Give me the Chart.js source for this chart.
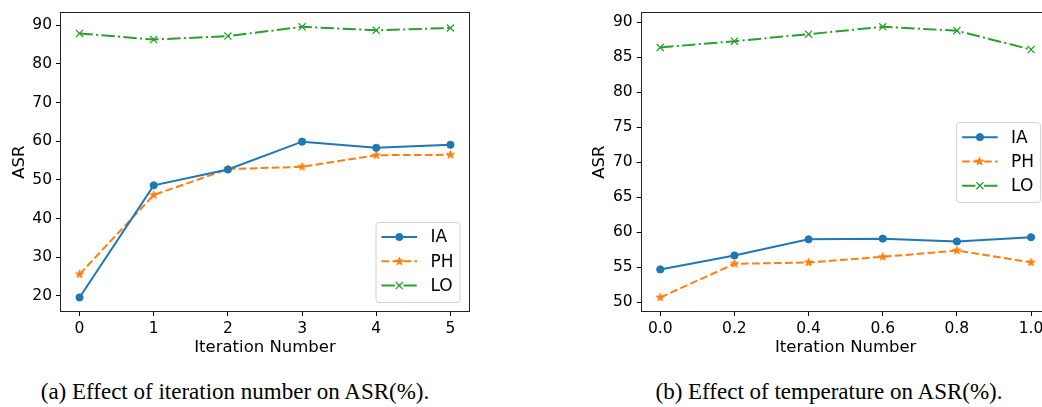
<!DOCTYPE html>
<html><head><meta charset="utf-8">
<script src="https://cdn.jsdelivr.net/npm/chart.js@4/dist/chart.umd.min.js"></script>
<style>
html,body{margin:0;padding:0;background:#fff;width:1042px;height:407px;overflow:hidden;position:relative}
.wrap{position:absolute;top:0;height:362px}
#wa{left:0;width:520px}
#wb{left:520px;width:540px}
.cap{position:absolute;top:379px;font-family:"Liberation Serif","Times New Roman",serif;font-size:23px;line-height:26px;color:#000;white-space:nowrap;transform:translateX(-50%)}
</style></head>
<body>
<div class="wrap" id="wa"><canvas id="ca" width="520" height="362"></canvas></div>
<div class="wrap" id="wb"><canvas id="cb" width="540" height="362"></canvas></div>
<div class="cap" style="left:235px">(a) Effect of iteration number on ASR(%).</div>
<div class="cap" style="left:829px">(b) Effect of temperature on ASR(%).</div>
<script>
// ---- data ----
const seriesNames = ['IA', 'PH', 'LO'];
const iterations = [0, 1, 2, 3, 4, 5];
const iterLabels = ['0', '1', '2', '3', '4', '5'];
const iaIter = [19.6, 48.6, 52.7, 59.9, 58.3, 59.1];
const phIter = [25.6, 46.1, 52.8, 53.4, 56.4, 56.5];
const loIter = [87.9, 86.3, 87.2, 89.6, 88.7, 89.3];
const yTicksA = [20, 30, 40, 50, 60, 70, 80, 90];

const temps = [0.0, 0.2, 0.4, 0.6, 0.8, 1.0];
const tempLabels = ['0.0', '0.2', '0.4', '0.6', '0.8', '1.0'];
const iaTemp = [54.7, 56.7, 59.0, 59.1, 58.7, 59.3];
const phTemp = [50.7, 55.5, 55.7, 56.5, 57.4, 55.7];
const loTemp = [86.4, 87.3, 88.3, 89.35, 88.8, 86.1];
const yTicksB = [50, 55, 60, 65, 70, 75, 80, 85, 90];

const xTitle = 'Iteration Number';
const yTitle = 'ASR';

// ---- styling ----
const C = ['#1f77b4', '#ff7f0e', '#2ca02c'];
const FONT = "'DejaVu Sans', sans-serif";

function starImg(color, R) {
  const s = 11;
  const c = document.createElement('canvas'); c.width = s; c.height = s;
  const g = c.getContext('2d');
  g.fillStyle = color; g.strokeStyle = color; g.lineWidth = 1; g.lineJoin = 'miter';
  g.beginPath();
  for (let k = 0; k < 10; k++) {
    const r = (k % 2) ? R * 0.381966 : R;
    const a = -Math.PI / 2 + k * Math.PI / 5;
    const px = s / 2 + r * Math.cos(a), py = s / 2 + r * Math.sin(a);
    if (k === 0) g.moveTo(px, py); else g.lineTo(px, py);
  }
  g.closePath(); g.fill(); g.stroke();
  return c;
}
const STAR = starImg(C[1], 4.3);

function pts(xs, ys) { return xs.map((x, i) => ({x: x, y: ys[i]})); }

function makeDatasets(xs, a, b, c) {
  return [
    {label: seriesNames[0], data: pts(xs, a), borderColor: C[0], backgroundColor: C[0], borderWidth: 2,
     pointStyle: 'circle', pointRadius: 3.6, pointBorderWidth: 1, pointBackgroundColor: C[0], pointBorderColor: C[0]},
    {label: seriesNames[1], data: pts(xs, b), borderColor: C[1], backgroundColor: C[1], borderWidth: 2,
     borderDash: [7.7, 3.3], pointStyle: STAR, pointRadius: 5, pointBorderWidth: 0},
    {label: seriesNames[2], data: pts(xs, c), borderColor: C[2], backgroundColor: C[2], borderWidth: 2,
     borderDash: [13.3, 3.3, 2.1, 3.3], pointStyle: 'crossRot', pointRadius: 5, pointBorderWidth: 1.3,
     pointBorderColor: C[2]}
  ];
}

function lim(arrs) {
  const all = [].concat(...arrs);
  const lo = Math.min(...all), hi = Math.max(...all), m = 0.05 * (hi - lo);
  return [lo - m, hi + m];
}

const framePlugin = {
  id: 'frame',
  afterDatasetsDraw(chart) {
    const ctx = chart.ctx, a = chart.chartArea;
    ctx.save();
    ctx.strokeStyle = '#222'; ctx.lineWidth = 1;
    ctx.strokeRect(Math.round(a.left) - 0.5, Math.round(a.top) - 0.5,
                   Math.round(a.right) - Math.round(a.left) + 1, Math.round(a.bottom) - Math.round(a.top) + 1);
    ctx.restore();
  }
};

function drawMarker(ctx, ds, x, y) {
  ctx.save();
  if (ds.pointStyle === 'circle') {
    ctx.fillStyle = ds.borderColor; ctx.strokeStyle = ds.borderColor; ctx.lineWidth = 1;
    ctx.beginPath(); ctx.arc(x, y, ds.pointRadius, 0, Math.PI * 2); ctx.fill(); ctx.stroke();
  } else if (ds.pointStyle === 'crossRot') {
    const d = ds.pointRadius * Math.SQRT1_2;
    ctx.strokeStyle = ds.borderColor; ctx.lineWidth = ds.pointBorderWidth;
    ctx.beginPath(); ctx.moveTo(x - d, y - d); ctx.lineTo(x + d, y + d);
    ctx.moveTo(x - d, y + d); ctx.lineTo(x + d, y - d); ctx.stroke();
  } else {
    const im = ds.pointStyle;
    ctx.drawImage(im, Math.round(x - im.width / 2), Math.round(y - im.height / 2));
  }
  ctx.restore();
}

const legendPlugin = {
  id: 'mplLegend',
  afterDraw(chart, args, opts) {
    const ctx = chart.ctx, a = chart.chartArea;
    const w = 84, h = 80;
    const x = a.right - 9.5 - w;
    const y = opts.loc === 'lower right' ? a.bottom - 9 - h : (a.top + a.bottom) / 2 - h / 2;
    ctx.save();
    ctx.beginPath();
    if (ctx.roundRect) ctx.roundRect(x + 0.5, y + 0.5, w, h, 3); else ctx.rect(x + 0.5, y + 0.5, w, h);
    ctx.fillStyle = 'rgba(255,255,255,0.8)'; ctx.fill();
    ctx.strokeStyle = '#d0d0d0'; ctx.lineWidth = 1; ctx.stroke();
    chart.data.datasets.forEach((ds, i) => {
      const cy = y + 15 + i * 24.3;
      ctx.save();
      ctx.strokeStyle = ds.borderColor; ctx.lineWidth = ds.borderWidth;
      ctx.setLineDash(ds.borderDash || []);
      ctx.beginPath(); ctx.moveTo(x + 6, cy); ctx.lineTo(x + 41.6, cy); ctx.stroke();
      ctx.restore();
      drawMarker(ctx, ds, x + 23.8, cy);
      ctx.fillStyle = '#000'; ctx.font = '17px ' + FONT; ctx.textBaseline = 'middle'; ctx.textAlign = 'left';
      ctx.fillText(ds.label, x + 55, cy + 1);
    });
    ctx.restore();
  }
};

function makeChart(id, xs, xLabels, xr, yTicks, yr, sets, yAxisW, yTitlePad, padRight, loc) {
  return new Chart(document.getElementById(id), {
    type: 'line',
    data: {datasets: sets},
    plugins: [framePlugin, legendPlugin],
    options: {
      responsive: false, animation: false, devicePixelRatio: 1,
      events: [],
      layout: {padding: {left: 0, right: padRight, top: 7, bottom: 0}},
      plugins: {legend: {display: false}, tooltip: {enabled: false}, mplLegend: {loc: loc}},
      elements: {line: {tension: 0}},
      scales: {
        x: {
          type: 'linear', min: xr[0], max: xr[1],
          afterBuildTicks: s => { s.ticks = xs.map(v => ({value: v})); },
          afterFit: s => { s.height = 51; },
          ticks: {callback: (v, i) => xLabels[i], color: '#000', font: {family: FONT, size: 15.5}, padding: 4, maxRotation: 0},
          grid: {drawOnChartArea: false, drawTicks: true, tickLength: 5, color: '#000', lineWidth: 1},
          border: {display: false},
          title: {display: true, text: xTitle, color: '#000', font: {family: FONT, size: 16.5}, padding: {top: 0, bottom: 4}}
        },
        y: {
          type: 'linear', min: yr[0], max: yr[1],
          afterBuildTicks: s => { s.ticks = yTicks.map(v => ({value: v})); },
          afterFit: s => { s.width = yAxisW; },
          ticks: {color: '#000', font: {family: FONT, size: 15.5}, padding: 4},
          grid: {drawOnChartArea: false, drawTicks: true, tickLength: 5, color: '#000', lineWidth: 1},
          border: {display: false},
          title: {display: true, text: yTitle, color: '#000', font: {family: FONT, size: 16.5}, padding: {top: yTitlePad, bottom: 0}}
        }
      }
    }
  });
}

makeChart('ca', iterations, iterLabels, lim([iterations]), yTicksA, lim([iaIter, phIter, loIter]),
          makeDatasets(iterations, iaIter, phIter, loIter), 61, 10, 51, 'lower right');
makeChart('cb', temps, tempLabels, lim([temps]), yTicksB, lim([iaTemp, phTemp, loTemp]),
          makeDatasets(temps, iaTemp, phTemp, loTemp), 121.7, 70, 10.4, 'center right');
</script>
</body></html>
